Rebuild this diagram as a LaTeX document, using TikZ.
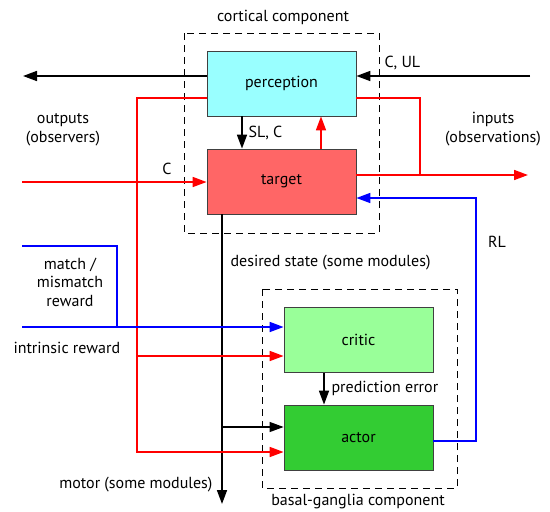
\documentclass[tikz,border=0pt]{standalone}
\usepackage{fontspec}
\setmainfont{PT Sans}
\usetikzlibrary{arrows.meta,calc}
\tikzset{unit/.style={draw=black!75,line width=.8pt,minimum width=149pt,minimum height=65pt,inner sep=0pt},
         wire/.style={line width=1.7pt},
         tip/.style={-{Triangle[length=14pt,width=10pt]}},
         group/.style={dash pattern=on 7pt off 5pt,line width=.6pt}}

\begin{document}
\begin{tikzpicture}[x=1pt,y=-1pt,font=\fontsize{16}{19}\selectfont]
  \useasboundingbox (0,0) rectangle (550,512);
  % the two dashed components
  \draw[group] (184,33) rectangle (379,233);
  \draw[group] (262,289) rectangle (457,488);
  \node (cortex) at (283,17) {cortical component};
  \node (basal) at (358,502) {basal-ganglia component};
  % modules
  \node[unit,fill={rgb,255:red,153;green,255;blue,255}] (perc) at (281.5,83.5) {perception};
  \node[unit,fill={rgb,255:red,255;green,102;blue,102}] (targ) at (281.5,181.5) {target};
  \node[unit,fill={rgb,255:red,153;green,255;blue,153}] (critic) at (358.5,340) {critic};
  \node[unit,fill={rgb,255:red,51;green,204;blue,51}] (actor) at (358.5,437.5) {actor};
  % free ends
  \coordinate (outp) at (23,76);
  \coordinate (inp) at (530,76);
  \coordinate (ctx) at (22,182);
  \coordinate (obs) at (528,175);
  \coordinate (intr) at (22,327);
  \coordinate (match) at (22,246);
  \coordinate (motor) at (222,504);
  % black connectors
  \draw[wire,tip] ($(perc.west)+(0,-7.5)$) -- (outp);
  \draw[wire,tip] (inp) -- (inp -| perc.east);
  \draw[wire,tip] (perc.south -| 242,0) -- (targ.north -| 242,0);
  \draw[wire,tip] (targ.south -| motor) -- (motor);
  \draw[line width=1.2pt,tip] (motor |- 0,427) -- (actor.west |- 0,427);
  \draw[wire,tip] (critic.south -| 324,0) -- (actor.north -| 324,0);
  % red connectors
  \begin{scope}[red]
    \draw[wire,tip] (ctx) -- (targ.west |- ctx);
    \draw[wire,tip] (targ.north -| 321,0) -- (perc.south -| 321,0);
    \draw[wire,tip] (targ.east |- obs) -- (obs);
    \draw[wire] ($(perc.east)+(0,14.5)$) -| (420,175);
    \draw[wire,tip] ($(perc.west)+(0,14.5)$) -| (137,452) -- (actor.west |- 0,452);
    \draw[wire,tip] (137,356) -- (critic.west |- 0,356);
  \end{scope}
  % blue connectors
  \begin{scope}[blue]
    \draw[wire,tip] (intr) -- (critic.west |- intr);
    \draw[wire] (match) -| (117,327);
    \draw[wire,tip] ($(actor.east)+(0,3.5)$) -| (476,198) -- (targ.east |- 0,198);
  \end{scope}
  % labels
  \node[anchor=west] (cul) at (381,63) {C, UL};
  \node[anchor=west] (slc) at (245,133) {SL, C};
  \node (cin) at (167,169) {C};
  \node[align=center] (outlab) at (63,130) {outputs\\(observers)};
  \node[align=center] (inlab) at (493,129) {inputs\\(observations)};
  \node (rl) at (497,242) {RL};
  \node[anchor=west] (desired) at (227,263) {desired state (some modules)};
  \node[align=center,font=\fontsize{16}{18.5}\selectfont] (mlab) at (70,282) {match /\\mismatch\\reward};
  \node[anchor=west] (ilab) at (10,348) {intrinsic reward};
  \node[anchor=west] (pred) at (328,388) {prediction error};
  \node[anchor=east] (mlab2) at (216,485) {motor (some modules)};
\end{tikzpicture}
\end{document}
